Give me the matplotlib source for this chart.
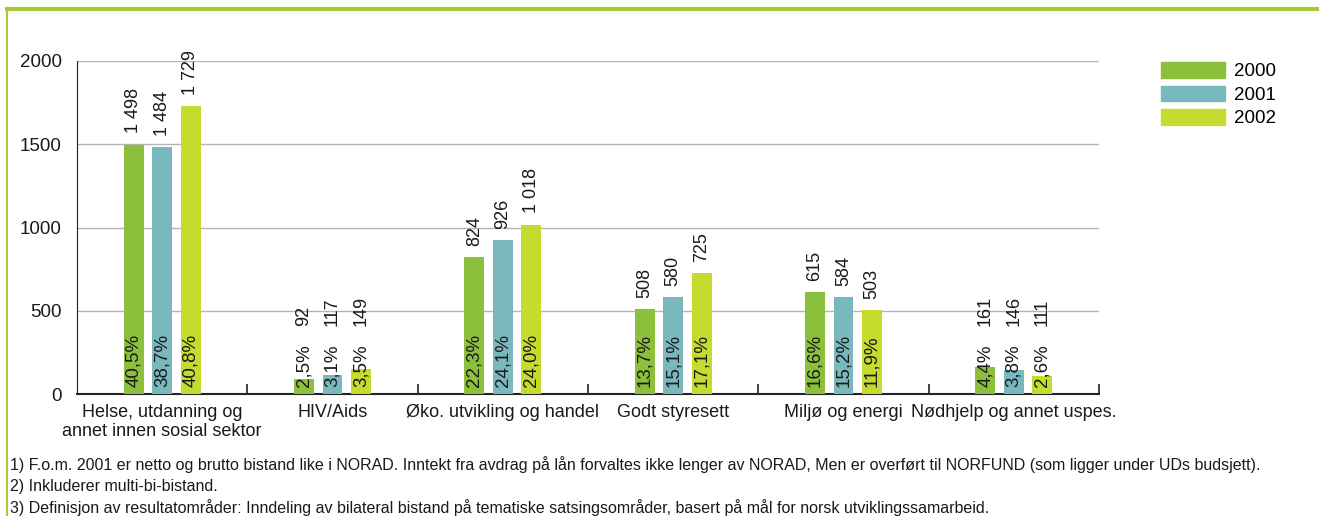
import numpy as np
import matplotlib
matplotlib.use("Agg")
from matplotlib import pyplot as plt
from matplotlib.lines import Line2D
from matplotlib.patches import Patch

plt.rcParams['font.family'] = ['Liberation Sans', 'DejaVu Sans']

# ==========================
# Data
# ==========================
categories = ["Helse, utdanning og\nannet innen sosial sektor", "HIV/Aids",
              "Øko. utvikling og handel", "Godt styresett",
              "Miljø og energi", "Nødhjelp og annet uspes."]
years = ["2000", "2001", "2002"]
values_2000 = [1498, 92, 824, 508, 615, 161]
values_2001 = [1484, 117, 926, 580, 584, 146]
values_2002 = [1729, 149, 1018, 725, 503, 111]
pct_2000 = ["40,5%", "2,5%", "22,3%", "13,7%", "16,6%", "4,4%"]
pct_2001 = ["38,7%", "3,1%", "24,1%", "15,1%", "15,2%", "3,8%"]
pct_2002 = ["40,8%", "3,5%", "24,0%", "17,1%", "11,9%", "2,6%"]
footnotes = [
    "1) F.o.m. 2001 er netto og brutto bistand like i NORAD. Inntekt fra avdrag på lån forvaltes ikke lenger av NORAD, "
    "Men er overført til NORFUND (som ligger under UDs budsjett).",
    "2) Inkluderer multi-bi-bistand.",
    "3) Definisjon av resultatområder: Inndeling av bilateral bistand på tematiske satsingsområder, "
    "basert på mål for norsk utviklingssamarbeid.",
]

colors = ["#8cbf3c", "#79b9bd", "#c5dc2e"]
frame_green = "#a8cb34"
text_color = "#1a1a1a"


def fmt_value(v):
    return "{:,}".format(v).replace(",", " ")


# ==========================
# Figure
# ==========================
fig = plt.figure(figsize=(13.19, 5.16), dpi=100)
ax = fig.add_axes([0.0584, 0.2364, 0.7748, 0.6454])

x = np.arange(len(categories))
width = 0.117
spacing = 0.167
series = [values_2000, values_2001, values_2002]
pcts = [pct_2000, pct_2001, pct_2002]

for i, (vals, pl) in enumerate(zip(series, pcts)):
    xs = x + (i - 1) * spacing
    ax.bar(xs, vals, width=width, color=colors[i], zorder=3, label=years[i])
    for xi, v, p in zip(xs, vals, pl):
        # percentage inside bar, from the bottom
        ax.annotate(p, (xi, 0), xytext=(0, 5), textcoords="offset points",
                    rotation=90, ha="center", va="bottom", fontsize=13.5,
                    color=text_color, zorder=4, annotation_clip=False)
        # value label above bar (pushed above percent text on short bars)
        ax.annotate(fmt_value(v), (xi, max(v, 340)), xytext=(0, 8),
                    textcoords="offset points", rotation=90, ha="center",
                    va="bottom", fontsize=13, color=text_color, zorder=4,
                    annotation_clip=False)

ax.set_xlim(-0.5, len(categories) - 0.5)
ax.set_ylim(0, 2000)
ax.set_yticks([0, 500, 1000, 1500, 2000])
ax.yaxis.grid(True, color="#b4b4b4", linewidth=1, zorder=0)
ax.tick_params(axis="y", length=0, pad=11, labelsize=13.5, labelcolor=text_color)

ax.set_xticks(x)
ax.set_xticklabels(categories, fontsize=13, color=text_color)
ax.set_xticks(np.arange(len(categories)) + 0.5, minor=True)
ax.tick_params(axis="x", which="major", length=0, pad=7)
ax.tick_params(axis="x", which="minor", direction="in", length=7, width=1.2,
               color="#222222")

for s in ["top", "right"]:
    ax.spines[s].set_visible(False)
ax.spines["left"].set_color("#222222")
ax.spines["bottom"].set_color("#222222")
ax.spines["bottom"].set_linewidth(1.5)

handles = [Patch(color=c) for c in colors]
fig.legend(handles, years, loc="upper left", bbox_to_anchor=(0.873, 0.898),
           frameon=False, fontsize=13.5, handlelength=3.4, handleheight=0.9,
           handletextpad=0.5, labelspacing=0.28, borderpad=0)

# green frame
fig.add_artist(Line2D([0.0055, 1.0], [0.983, 0.983], color=frame_green,
                      linewidth=3, transform=fig.transFigure))
fig.add_artist(Line2D([0.0055, 0.0055], [0.0, 0.985], color=frame_green,
                      linewidth=1.5, transform=fig.transFigure))

# footnotes
for k, line in enumerate(footnotes):
    fig.text(0.0076, 0.100 - k * 0.042, line, fontsize=11.5, color=text_color,
             va="center", ha="left")

fig.savefig("out.png", dpi=100)
